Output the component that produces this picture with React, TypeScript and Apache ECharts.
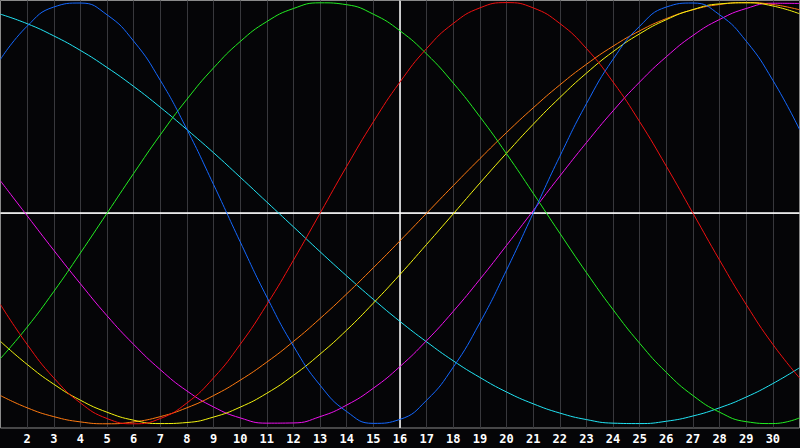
import * as echarts from "echarts"
import { useEffect, useRef } from "react"

const days = [
  "1", "2", "3", "4", "5", "6", "7", "8", "9", "10", "11", "12", "13", "14", "15", "16",
  "17", "18", "19", "20", "21", "22", "23", "24", "25", "26", "27", "28", "29", "30", "31",
]

// today's marker (vertical white line)
const markedDay = "16"

const physical = [
  0.731, 0.888, 0.979, 0.998, 0.942, 0.817, 0.631, 0.398, 0.136, -0.136, -0.398,
  -0.631, -0.817, -0.942, -0.998, -0.979, -0.888, -0.731, -0.52, -0.27, 0.0, 0.27,
  0.52, 0.731, 0.888, 0.979, 0.998, 0.942, 0.817, 0.631, 0.398,
]

const emotional = [
  -0.434, -0.623, -0.782, -0.901, -0.975, -1.0, -0.975, -0.901, -0.782, -0.623, -0.434,
  -0.223, 0.0, 0.223, 0.434, 0.623, 0.782, 0.901, 0.975, 1.0, 0.975, 0.901, 0.782,
  0.623, 0.434, 0.223, 0.0, -0.223, -0.434, -0.623, -0.782,
]

const intellectual = [
  -0.69, -0.541, -0.372, -0.189, 0.0, 0.189, 0.372, 0.541, 0.69, 0.815, 0.91, 0.972,
  0.999, 0.99, 0.945, 0.866, 0.756, 0.618, 0.458, 0.282, 0.095, -0.095, -0.282,
  -0.458, -0.618, -0.756, -0.866, -0.945, -0.99, -0.999, -0.972,
]

const intuitive = [
  0.153, -0.012, -0.176, -0.335, -0.487, -0.623, -0.743, -0.844, -0.92, -0.972,
  -0.997, -0.996, -0.966, -0.911, -0.831, -0.728, -0.605, -0.466, -0.314, -0.153,
  0.012, 0.176, 0.335, 0.486, 0.623, 0.743, 0.844, 0.92, 0.972, 0.997, 0.996,
]

const aesthetic = [
  -0.609, -0.718, -0.812, -0.888, -0.945, -0.983, -0.999, -0.994, -0.968, -0.921,
  -0.855, -0.77, -0.669, -0.555, -0.427, -0.291, -0.148, -0.003, 0.143, 0.285, 0.422,
  0.549, 0.665, 0.767, 0.852, 0.919, 0.967, 0.994, 0.999, 0.984, 0.947,
]

const awareness = [
  -0.866, -0.924, -0.966, -0.991, -1.0, -0.991, -0.966, -0.924, -0.866, -0.793,
  -0.707, -0.609, -0.5, -0.383, -0.259, -0.131, 0.0, 0.131, 0.259, 0.383, 0.5, 0.609,
  0.707, 0.793, 0.866, 0.924, 0.966, 0.991, 1.0, 0.991, 0.966,
]

const spiritual = [
  0.945, 0.9, 0.842, 0.773, 0.692, 0.602, 0.503, 0.397, 0.287, 0.171, 0.053, -0.065,
  -0.183, -0.298, -0.409, -0.514, -0.611, -0.701, -0.78, -0.849, -0.905, -0.949,
  -0.98, -0.997, -0.999, -0.988, -0.963, -0.924, -0.873, -0.809, -0.734,
]

const curves = [
  { name: "Spiritual", data: spiritual, color: "#22e4f4" },
  { name: "Intuitive", data: intuitive, color: "#ee11ee" },
  { name: "Awareness", data: awareness, color: "#ff7a10" },
  { name: "Aesthetic", data: aesthetic, color: "#f4f410" },
  { name: "Intellectual", data: intellectual, color: "#22ee22" },
  { name: "Emotional", data: emotional, color: "#f01010" },
  { name: "Physical", data: physical, color: "#1468ff" },
]

export default function App() {
  const node = useRef<HTMLDivElement>(null)

  useEffect(() => {
    if (!node.current) return
    document.body.style.margin = "0"
    const chart = echarts.init(node.current, undefined, { renderer: "svg" })
    chart.setOption({
      animation: false,
      backgroundColor: "#050507",
      grid: {
        left: 0.5,
        right: 0.5,
        top: 0.5,
        bottom: 20,
        show: true,
        borderColor: "#8a8a8a",
        borderWidth: 1,
      },
      xAxis: {
        type: "category",
        data: days,
        boundaryGap: false,
        axisLine: { lineStyle: { color: "#a8a8a8", width: 1 } },
        axisTick: { show: false },
        axisLabel: {
          interval: (index: number) => index > 0 && index < days.length - 1,
          color: "#ffffff",
          fontFamily: "DejaVu Sans Mono",
          fontWeight: "bold",
          fontSize: 12,
          margin: 5,
        },
        splitLine: { show: true, lineStyle: { color: "#38383c", width: 1 } },
      },
      yAxis: {
        type: "value",
        min: -1.02,
        max: 1.01,
        show: false,
        splitLine: { show: false },
      },
      series: curves.map((curve, index) => ({
        name: curve.name,
        type: "line",
        data: curve.data,
        smooth: true,
        showSymbol: false,
        silent: true,
        z: 3,
        lineStyle: { color: curve.color, width: 1 },
        itemStyle: { color: curve.color },
        markLine:
          index === 0
            ? {
                silent: true,
                symbol: "none",
                label: { show: false },
                lineStyle: { color: "#ffffff", width: 1.5, type: "solid" },
                z: 2,
                data: [{ xAxis: markedDay }, { yAxis: 0 }],
              }
            : undefined,
      })),
    })
    return () => {
      chart.dispose()
    }
  }, [])

  return (
    <div
      ref={node}
      style={{ position: "fixed", left: 0, top: 0, width: 800, height: 448 }}
    />
  )
}
